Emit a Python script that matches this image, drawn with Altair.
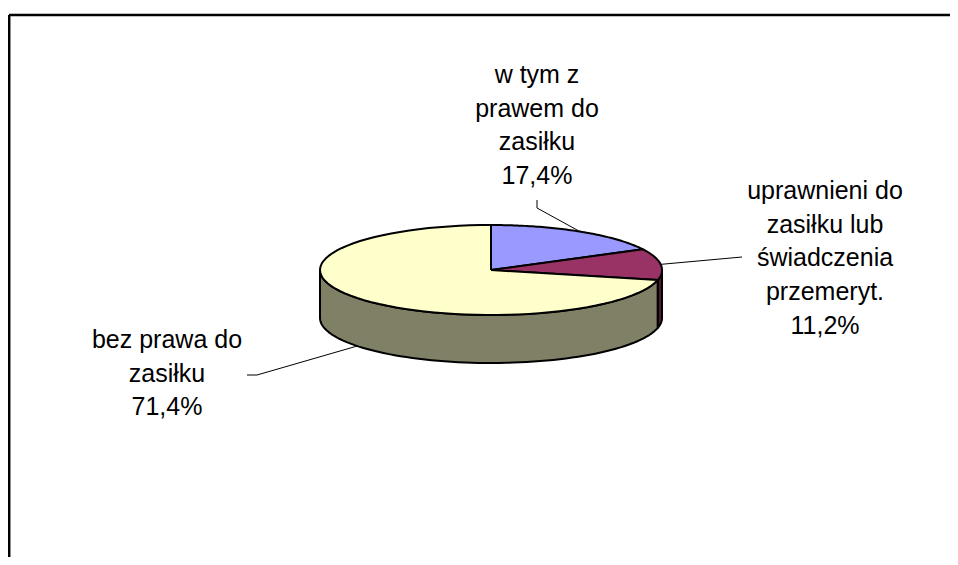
import altair as alt
import pandas as pd

# ---- data ----
categories = [
    "w tym z prawem do zasiłku",
    "uprawnieni do zasiłku lub świadczenia przemeryt.",
    "bez prawa do zasiłku",
]
values = [17.4, 11.2, 71.4]
label_lines = [
    ["w tym z", "prawem do", "zasiłku"],
    ["uprawnieni do", "zasiłku lub", "świadczenia", "przemeryt."],
    ["bez prawa do", "zasiłku"],
]

# ---- style / layout ----
TOP_COLORS = ["#9999FF", "#993366", "#FFFFCC"]
SIDE_COLORS = ["#4C4C80", "#4C1933", "#808066"]
W, H = 942, 549
CX, CY, RX, RY, DEPTH = 483, 262, 171, 45, 48
N = 72
FONT = "Liberation Sans"
# label anchors (view pixels): centre x, first baseline y
LAB_X = [529, 817, 159]
LAB_Y = [75, 191, 340]
# leader start / elbow points (view pixels)
LEAD_SX = [529, 734, 239]
LEAD_SY = [192, 249, 367]
LEAD_EX = [529, 734, 249]
LEAD_EY = [200, 249, 367]


def pct(v):
    return f"{v:.1f}".replace(".", ",") + "%"


df = pd.DataFrame({
    "category": categories,
    "value": values,
    "order": list(range(len(categories))),
    "label": ["\n".join(l + [pct(v)]) for l, v in zip(label_lines, values)],
    "lab_x": LAB_X, "lab_y": LAB_Y,
    "sx": LEAD_SX, "sy": LEAD_SY, "ex": LEAD_EX, "ey": LEAD_EY,
})

xs = alt.Scale(domain=[0, W], nice=False, zero=False)
ys = alt.Scale(domain=[0, H], nice=False, zero=False, reverse=True)

base = alt.Chart(df).transform_window(
    cum="sum(value)", sort=[alt.SortField("order")], frame=[None, 0]
).transform_joinaggregate(
    total="sum(value)"
).transform_calculate(
    a1="PI/2 - 2*PI*(datum.cum - datum.value)/datum.total",
    a2="PI/2 - 2*PI*datum.cum/datum.total",
)

enc_xy = dict(
    x=alt.X("px:Q", scale=xs, axis=None),
    y=alt.Y("py:Q", scale=ys, axis=None),
    detail="category:N",
    order="k:Q",
)

# side band (visible front half only)
side = base.transform_calculate(
    b1="min(datum.a1, 0)", b2="max(datum.a2, -PI)"
).transform_filter(
    "datum.b1 > datum.b2"
).transform_calculate(
    k=f"sequence(0, {2 * N + 3})"
).transform_flatten(["k"]).transform_calculate(
    j=f"datum.k <= {N} ? datum.k : (datum.k <= {2 * N + 1} ? {2 * N + 1} - datum.k : 0)",
    bot=f"datum.k > {N} && datum.k <= {2 * N + 1}",
).transform_calculate(
    ang=f"datum.b1 + datum.j/{N}*(datum.b2 - datum.b1)",
).transform_calculate(
    px=f"{CX} + {RX}*cos(datum.ang)",
    py=f"{CY} - {RY}*sin(datum.ang) + (datum.bot ? {DEPTH} : 0)",
).mark_line(stroke="black", strokeWidth=2, strokeJoin="round").encode(
    fill=alt.Fill("category:N", scale=alt.Scale(domain=categories, range=SIDE_COLORS), legend=None),
    **enc_xy,
)

# top face
top = base.transform_calculate(
    k=f"sequence(0, {N + 3})"
).transform_flatten(["k"]).transform_calculate(
    t=f"clamp((datum.k - 1)/{N}, 0, 1)",
    edge=f"datum.k > 0 && datum.k < {N + 2}",
).transform_calculate(
    ang="datum.a1 + datum.t*(datum.a2 - datum.a1)",
).transform_calculate(
    px=f"datum.edge ? {CX} + {RX}*cos(datum.ang) : {CX}",
    py=f"datum.edge ? {CY} - {RY}*sin(datum.ang) : {CY}",
).mark_line(stroke="black", strokeWidth=2, strokeJoin="round").encode(
    fill=alt.Fill("category:N", scale=alt.Scale(domain=categories, range=TOP_COLORS), legend=None),
    **enc_xy,
)

# leader lines
leaders = base.transform_calculate(
    mid="(datum.a1 + datum.a2)/2",
    k="sequence(0, 3)",
).transform_flatten(["k"]).transform_calculate(
    px=f"datum.k == 0 ? datum.sx : (datum.k == 1 ? datum.ex : {CX} + {RX}*cos(datum.mid))",
    py=f"datum.k == 0 ? datum.sy : (datum.k == 1 ? datum.ey : {CY} - {RY}*sin(datum.mid) + (sin(datum.mid) < 0 ? {DEPTH} : 0))",
).mark_line(color="black", strokeWidth=1).encode(**enc_xy)

labels = alt.Chart(df).mark_text(
    lineBreak="\n", align="center", baseline="alphabetic",
    font=FONT, fontSize=25, lineHeight=33.7, color="black",
).encode(
    x=alt.X("lab_x:Q", scale=xs, axis=None),
    y=alt.Y("lab_y:Q", scale=ys, axis=None),
    text="label:N",
)

frame_df = pd.DataFrame({"a": [0]})
frame_top = alt.Chart(frame_df).mark_rule(color="black", strokeWidth=2.5).encode(
    x=alt.value(1), x2=alt.value(W), y=alt.value(7)
)
frame_left = alt.Chart(frame_df).mark_rule(color="black", strokeWidth=2.5).encode(
    x=alt.value(1.2), y=alt.value(7), y2=alt.value(H)
)

chart = alt.layer(side, top, leaders, labels, frame_top, frame_left).properties(
    width=W, height=H, autosize=alt.AutoSizeParams(type="none"),
    padding=0, background="white",
).resolve_scale(fill="independent").configure_view(stroke=None)

chart.save("out.html", embed_options={"renderer": "svg", "actions": False})
